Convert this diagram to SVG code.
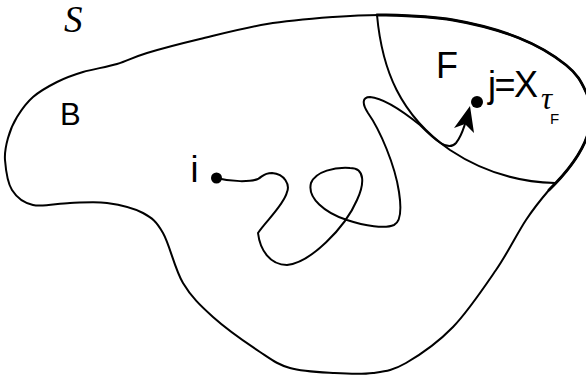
<svg xmlns="http://www.w3.org/2000/svg" width="586" height="378" viewBox="0 0 586 378">
<style>
.ln{fill:none;stroke:#000;stroke-width:2;stroke-linecap:round;stroke-linejoin:round}
.bd{fill:none;stroke:#000;stroke-width:2.8;stroke-linecap:round}
.t{font-family:"Liberation Sans",Arial,sans-serif;fill:#000}
.it{font-family:"Liberation Serif","Times New Roman",serif;font-style:italic;fill:#000}
.dot{fill:#000}
</style>
<rect width="586" height="378" fill="#fff"/>
<g id="S">
<text class="it" x="64" y="32" font-size="37">S</text>
</g>
<g id="B">
<path class="ln" d="M12,190 C7.3,182.5 5.7,168.7 5,160 C4.3,151.3 6,145.2 8,138 C10,130.8 12.8,123.8 17,117 C21.2,110.2 26.3,102.8 33,97 C39.7,91.2 48.7,86.2 57,82 C65.3,77.8 73,75 83,72 C93,69 106.3,67.2 117,64 C127.7,60.8 133.2,57.2 147,53 C160.8,48.8 180,43.8 200,39 C220,34.2 244.8,27.7 267,24 C289.2,20.3 313.2,18.5 333,17 C352.8,15.5 366,14.5 386,15 C406,15.5 430.8,16.2 453,20 C475.2,23.8 500.2,30.5 519,38 C537.8,45.5 554.8,56 566,65 C577.2,74 581,81.2 586,92 C598,118 590,150 549,190 C543,197 534.8,206.7 526,220 C517.2,233.3 508.2,252.2 496,270 C483.8,287.8 468,311.5 453,327 C438,342.5 419.3,355.3 406,363 C392.7,370.7 385.2,371.3 373,373 C360.8,374.7 346.8,373.8 333,373 C319.2,372.2 302.2,371.5 290,368 C277.8,364.5 272.8,360.5 260,352 C247.2,343.5 225.8,328.5 213,317 C200.2,305.5 191.3,297 183,283 C174.7,269 169.7,244.7 163,233 C156.3,221.3 152.3,218 143,213 C133.7,208 119.2,204.7 107,203 C94.8,201.3 82.3,202.7 70,203 C57.7,203.3 42.7,207.2 33,205 C23.3,202.8 16.7,197.5 12,190 Z"/>
<text class="t" x="60" y="125" font-size="31">B</text>
</g>
<g id="F">
<path class="bd" d="M377,15 L386,15 C406,15.5 430.8,16.2 453,20 C475.2,23.8 500.2,30.5 519,38 C537.8,45.5 554.8,56 566,65 C577.2,74 581,81.2 586,92 C598,118 590,150 549,190"/>
<path class="ln" stroke-width="2.4" d="M377,15 C382,70 400,115 450,150 C480,170 515,182 555,183"/>
<text class="t" x="436" y="78" font-size="36">F</text>
</g>
<g id="node-i">
<circle class="dot" cx="216.5" cy="178" r="5.5"/>
<text class="t" x="190.6" y="182" font-size="36">i</text>
</g>
<g id="node-j">
<circle class="dot" cx="477" cy="102" r="6"/>
<text class="t" x="488" y="97" font-size="36" letter-spacing="-1.5">j=X</text>
<text class="it" x="541" y="109" font-size="31">τ</text>
<text class="t" x="550" y="124" font-size="15">F</text>
</g>
<g id="connectors">
<path class="ln" d="M216,178 C232,182 250,182 258,179 C263,176 264,173 272,173 C285,174 290,185 287,192 C284,205 265,222 258,233 C260,250 270,265 287,265 C310,263 345,228 357,200 C364,185 366,168 350,168 C335,167 316,171 311,183 C307,198 325,213 347,220 C365,226 385,229 394,225 C402,221 401,205 399,192 C395,165 380,130 368,113 C362,104 362,97 370,97 C385,98 405,113 420,125 C435,140 448,152 456,143 C461,137 463,130 465,124"/>
<polygon points="470,106 474,133 465,124 454,128" fill="#000"/>
</g>
</svg>
